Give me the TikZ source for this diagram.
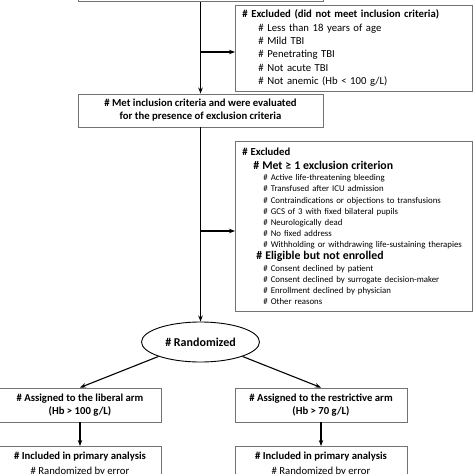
\documentclass[tikz,border=0pt]{standalone}
\usepackage{fontspec}
\setmainfont{Carlito}
\usetikzlibrary{arrows.meta,shapes.geometric}

\tikzset{
  box/.style={draw=black!55, line width=0.9pt, fill=white, align=center,
    font=\bfseries\fontsize{10.7}{13}\selectfont, inner xsep=4pt, inner ysep=3pt},
  listbox/.style={draw=black!55, line width=0.9pt, fill=white, align=left,
    anchor=north west, inner xsep=7pt, inner ysep=2pt},
  oval/.style={draw, ellipse, line width=0.9pt, font=\bfseries\fontsize{12}{13}\selectfont},
  arr/.style={-{Stealth[length=6pt,width=4.5pt]}, line width=1.1pt},
}

\begin{document}
\begin{tikzpicture}[x=1pt,y=-1pt]
  \useasboundingbox (0,0) rectangle (474,474);

  % top of the flow (box cut by the page edge)
  \node[box, minimum width=245pt, minimum height=30pt, anchor=south] (screened) at (200.5,1.8) {};

  \node[listbox, minimum width=237pt, minimum height=86pt, text width=223pt,
    font=\fontsize{10.7}{13.3}\selectfont] (excl1) at (235,4.7)
    {{\bfseries \# Excluded (did not meet inclusion criteria)}\\
     \hspace*{16pt}\# Less than 18 years of age\\
     \hspace*{16pt}\# Mild TBI\\
     \hspace*{16pt}\# Penetrating TBI\\
     \hspace*{16pt}\# Not acute TBI\\
     \hspace*{16pt}\# Not anemic (Hb < 100 g/L)};

  \node[box, minimum width=245pt, minimum height=33pt] (met) at (200.5,110.5)
    {\# Met inclusion criteria and were evaluated\\for the presence of exclusion criteria};

  \node[listbox, minimum width=237pt, minimum height=170pt, text width=223pt,
    font=\fontsize{8.8}{11.2}\selectfont] (excl2) at (235,141)
    {{\bfseries\fontsize{10.7}{11.2}\selectfont \# Excluded}\\[2.5pt]
     \hspace*{11pt}{\bfseries\fontsize{11.8}{11.2}\selectfont \# Met ≥ 1 exclusion criterion}\\[0.5pt]
     \hspace*{21pt}\# Active life-threatening bleeding\\
     \hspace*{21pt}\# Transfused after ICU admission\\
     \hspace*{21pt}\# Contraindications or objections to transfusions\\
     \hspace*{21pt}\# GCS of 3 with fixed bilateral pupils\\
     \hspace*{21pt}\# Neurologically dead\\
     \hspace*{21pt}\# No fixed address\\
     \hspace*{21pt}\# Withholding or withdrawing life-sustaining therapies\\[0.5pt]
     \hspace*{14pt}{\bfseries\fontsize{11.8}{11.2}\selectfont \# Eligible but not enrolled}\\[0.5pt]
     \hspace*{21pt}\# Consent declined by patient\\
     \hspace*{21pt}\# Consent declined by surrogate decision-maker\\
     \hspace*{21pt}\# Enrollment declined by physician\\
     \hspace*{21pt}\# Other reasons};

  \node[oval, minimum width=118pt, minimum height=40pt] (rand) at (200.5,342) {\# Randomized};

  \node[box, minimum width=162pt, minimum height=34pt] (liberal) at (80,405)
    {\# Assigned to the liberal arm\\(Hb > 100 g/L)};
  \node[box, minimum width=172pt, minimum height=34pt] (restr) at (321,405)
    {\# Assigned to the restrictive arm\\(Hb > 70 g/L)};

  \node[box, minimum width=162pt, anchor=north, inner ysep=6pt, font=\fontsize{10.7}{15}\selectfont] (incl1) at (80,446)
    {{\bfseries \# Included in primary analysis}\\\# Randomized by error\\[4pt]};
  \node[box, minimum width=172pt, anchor=north, inner ysep=6pt, font=\fontsize{10.7}{15}\selectfont] (incl2) at (321,446)
    {{\bfseries \# Included in primary analysis}\\\# Randomized by error\\[4pt]};

  % connectors
  \coordinate (j1) at (200.5,52);
  \coordinate (j2) at (200.5,231);
  \draw[arr] (screened.south) -- (met.north);
  \draw[arr] (j1) -- (j1 -| excl1.west);
  \draw[arr] (met.south) -- (rand.north);
  \draw[arr] (j2) -- (j2 -| excl2.west);
  \draw[arr] (rand.south west) -- (liberal.north);
  \draw[arr] (rand.south east) -- (restr.north);
  \draw[arr] (liberal.south) -- (incl1.north);
  \draw[arr] (restr.south) -- (incl2.north);
\end{tikzpicture}
\end{document}
